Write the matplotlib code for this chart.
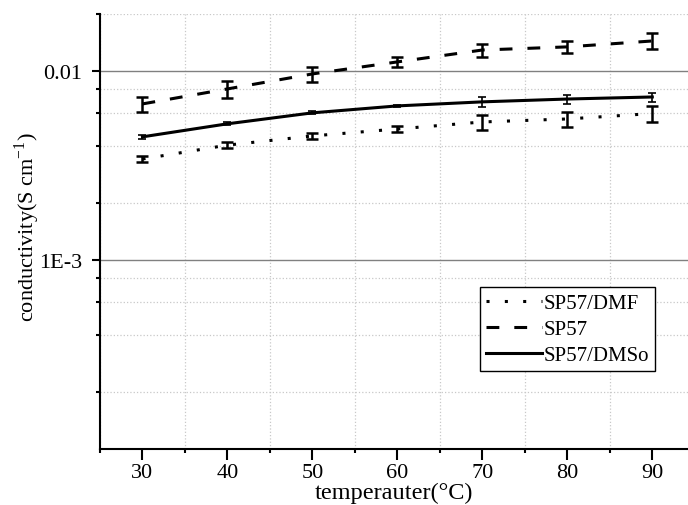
import matplotlib
matplotlib.use('Agg')
import matplotlib.pyplot as plt
from matplotlib.ticker import FixedLocator, NullFormatter
from matplotlib.lines import Line2D

plt.rcParams['font.family'] = ['Liberation Serif', 'DejaVu Serif']
plt.rcParams['mathtext.fontset'] = 'custom'
plt.rcParams['mathtext.rm'] = 'Liberation Serif'

# temperature (C)
temp = [30, 40, 50, 60, 70, 80, 90]

# conductivity (S/cm)
dmf = [0.00342, 0.00405, 0.00453, 0.00493, 0.00537, 0.00557, 0.00595]
dmf_err = [0.00013, 0.00015, 0.00017, 0.0002, 0.0005, 0.0005, 0.0006]
sp57 = [0.00669, 0.00803, 0.00964, 0.01116, 0.0129, 0.0134, 0.0144]
sp57_err = [0.0006, 0.0008, 0.0009, 0.0007, 0.001, 0.001, 0.0014]
dmso = [0.00448, 0.00525, 0.0060, 0.00653, 0.00686, 0.0071, 0.00728]
dmso_err = [0.0001, 0.0001, 0.0001, 0.0001, 0.0004, 0.0004, 0.0004]

labels = ['SP57/DMF', 'SP57', 'SP57/DMSo']

fig = plt.figure(figsize=(6.88, 5.06), dpi=100)
ax = fig.add_axes([100/688, 56/506, 588/688, 435/506])

lw = 2.2
dot = (1, 5)
dash = (4.2, 4.9)
ax.errorbar(temp, dmf, yerr=dmf_err, color='black', lw=lw, dashes=dot,
            capsize=4, elinewidth=1.8, capthick=1.8)
ax.errorbar(temp, sp57, yerr=sp57_err, color='black', lw=lw, dashes=dash,
            capsize=4, elinewidth=1.8, capthick=1.8)
ax.errorbar(temp, dmso, yerr=dmso_err, color='black', lw=lw,
            capsize=3, elinewidth=1.2, capthick=1.2)

ax.set_yscale('log')
ax.set_ylim(1e-4, 0.02)
ax.set_xlim(25, 94.2)

ax.yaxis.set_major_locator(FixedLocator([1e-3, 1e-2]))
ax.set_yticklabels(['1E-3', '0.01'])
minors_y = [m * 10.0**e for e in (-4, -3, -2) for m in (2, 4, 6, 8)]
minors_y = [v for v in minors_y if v <= 0.02]
ax.yaxis.set_minor_locator(FixedLocator(minors_y))
ax.yaxis.set_minor_formatter(NullFormatter())

ax.set_xticks([30, 40, 50, 60, 70, 80, 90])
ax.xaxis.set_minor_locator(FixedLocator([25, 35, 45, 55, 65, 75, 85]))

ax.grid(which='major', axis='y', color='#808080', lw=1.0, ls='-')
ax.grid(which='minor', axis='y', color='#c8c8c8', lw=0.9, ls=':')
ax.grid(which='minor', axis='x', color='#c8c8c8', lw=0.9, ls=':')
ax.set_axisbelow(True)

for s in ['top', 'right']:
    ax.spines[s].set_visible(False)
for s in ['left', 'bottom']:
    ax.spines[s].set_linewidth(1.5)

ax.tick_params(which='major', direction='out', length=6, width=1.5, labelsize=16)
ax.tick_params(which='minor', direction='out', length=3, width=1.5)
ax.tick_params(axis='x', which='major', length=8, pad=2)
ax.tick_params(axis='y', which='major', pad=7)

ax.set_xlabel('temperauter(\u00b0C)', fontsize=17.5, labelpad=0)
ax.set_ylabel('conductivity(S cm$^{-1}$)', fontsize=16)
ax.yaxis.set_label_coords(-0.099, 0.513)

handles = [Line2D([], [], color='black', lw=lw, dashes=dot),
           Line2D([], [], color='black', lw=lw, dashes=dash),
           Line2D([], [], color='black', lw=lw)]
leg = ax.legend(handles, labels, loc='lower right', bbox_to_anchor=(0.944, 0.179),
                fontsize=15, frameon=True, fancybox=False, edgecolor='black',
                framealpha=1, handlelength=2.7, handletextpad=0.05,
                borderpad=0.3, labelspacing=0.3, borderaxespad=0)
leg.get_frame().set_linewidth(1.0)

fig.savefig('out.png', dpi=100)
